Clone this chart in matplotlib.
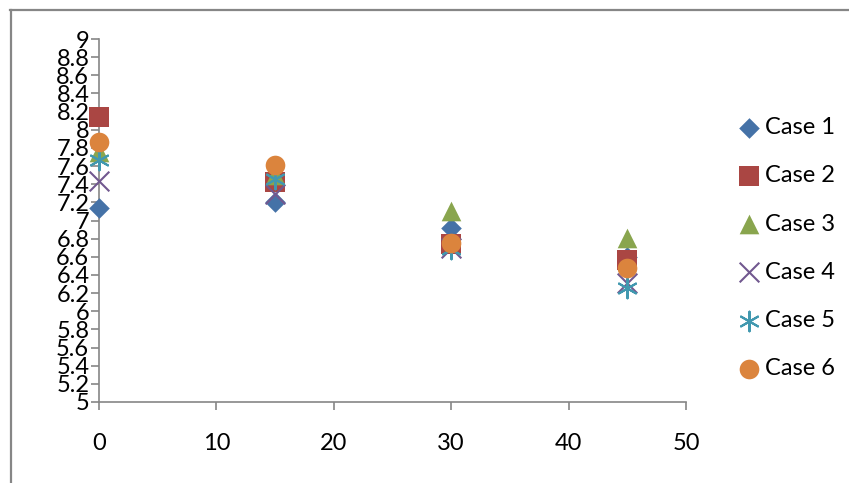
import matplotlib
matplotlib.use("Agg")
import matplotlib.pyplot as plt
from matplotlib.lines import Line2D

plt.rcParams['font.family'] = ['Lato', 'DejaVu Sans']

x_vals = [0, 15, 30, 45]
case_names = ["Case 1", "Case 2", "Case 3", "Case 4", "Case 5", "Case 6"]
case1 = [7.14, 7.20, 6.92, 6.60]
case2 = [8.14, 7.42, 6.74, 6.57]
case3 = [7.76, 7.50, 7.11, 6.81]
case4 = [7.44, 7.29, 6.70, 6.31]
case5 = [7.67, 7.46, 6.69, 6.26]
case6 = [7.87, 7.61, 6.75, 6.48]
series = [case1, case2, case3, case4, case5, case6]
y_ticks = [5, 5.2, 5.4, 5.6, 5.8, 6, 6.2, 6.4, 6.6, 6.8, 7,
           7.2, 7.4, 7.6, 7.8, 8, 8.2, 8.4, 8.6, 8.8, 9]
x_ticks = [0, 10, 20, 30, 40, 50]

styles = [
    dict(marker='D', color='#4572A7', s=110, lw=0),
    dict(marker='s', color='#AA4643', s=200, lw=0),
    dict(marker='^', color='#89A54E', s=200, lw=0),
    dict(marker='x', color='#71588F', s=200, lw=1.5),
    dict(marker=(6, 2, 0), color='#4198AF', s=200, lw=1.5),
    dict(marker='o', color='#DB843D', s=200, lw=0),
]

fig = plt.figure(figsize=(8.49, 4.83), dpi=100)
ax = fig.add_axes([99/849, 81/483, 587/849, 363/483])

for name, vals, st in zip(case_names, series, styles):
    ax.scatter(x_vals, vals, marker=st['marker'], s=st['s'], c=st['color'],
               linewidths=st['lw'], label=name, zorder=3, clip_on=False)

ax.set_xlim(0, 50)
ax.set_ylim(5, 9)
ax.set_xticks(x_ticks)
ax.set_yticks(y_ticks)
ax.set_yticklabels([f"{v:g}" for v in y_ticks])

for side in ('top', 'right'):
    ax.spines[side].set_visible(False)
for side in ('left', 'bottom'):
    ax.spines[side].set_color('#868686')
    ax.spines[side].set_linewidth(1.2)
ax.tick_params(axis='both', direction='out', length=6, width=1.2, color='#868686',
               labelsize=17, labelcolor='black')
ax.tick_params(axis='y', pad=1)
ax.tick_params(axis='x', pad=16)

leg = ax.legend(loc='center left', bbox_to_anchor=((738.6 - 99) / 587, 0.424),
                frameon=False, fontsize=17, labelspacing=1.15, borderpad=0,
                handletextpad=0.2, handlelength=0.9, borderaxespad=0)

# chart border
fig.add_artist(Line2D([10/849, 1.0], [1 - 10/483, 1 - 10/483], color='#868686', lw=1.6,
                      transform=fig.transFigure))
fig.add_artist(Line2D([11/849, 11/849], [0, 1 - 10/483], color='#868686', lw=1.6,
                      transform=fig.transFigure))

fig.savefig("out.png", dpi=100)
